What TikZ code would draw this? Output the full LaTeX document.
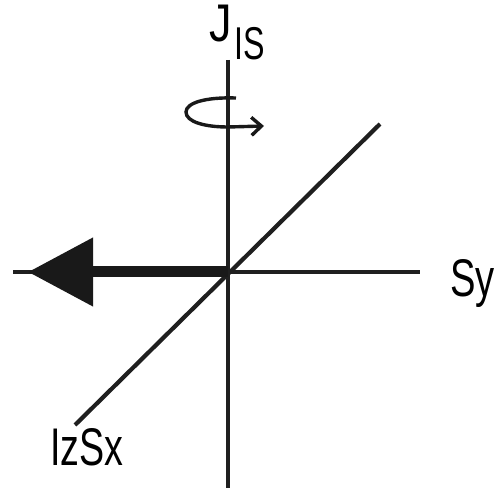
\documentclass[tikz,border=0pt]{standalone}
\usepackage{fontspec}
\setmainfont{Liberation Sans}
\usetikzlibrary{arrows.meta}
\tikzset{
  axis/.style={line width=4.2pt, draw=black!88},
  lbl/.style={inner sep=0pt, anchor=base west, font=\fontsize{53}{53}\selectfont},
  sublbl/.style={inner sep=0pt, anchor=base west, font=\fontsize{46}{46}\selectfont},
  rot/.style={line width=3.4pt, draw=black!90, -{Straight Barb[length=10pt,width=18pt]}},
  bigarrow/.style={line width=11pt, draw=black!90, -{Triangle[length=65pt,width=66pt]}}
}
\begin{document}
\begin{tikzpicture}[x=1pt,y=1pt]
\useasboundingbox (0,0) rectangle (504,488);
% coordinates (pixel x, 488 - pixel y)
\coordinate (O) at (228,216);
\coordinate (vtop) at (228,428);
\coordinate (vbot) at (228,0);
\coordinate (hl) at (13,216);
\coordinate (hr) at (420,216);
\coordinate (dl) at (75,63);
\coordinate (dr) at (380,364);
\coordinate (tip) at (28,216);
% axes
\draw[axis] (vtop) -- (vbot);
\draw[axis] (hl) -- (hr);
\draw[axis] (dl) -- (dr);
% big arrow
\draw[bigarrow] (O) -- (tip);
% rotation arrow
\coordinate (r0) at (236,390);
\coordinate (r1) at (186,376);
\coordinate (r2) at (228,361);
\coordinate (r3) at (264,362);
\draw[rot] (r0) .. controls (205,391) and (186,385) .. (r1)
  .. controls (186,366) and (205,361) .. (r2) -- (r3);
% labels
\node[lbl] (J) at (209,446) {\scalebox{0.85}[1]{J}};
\node[sublbl] (IS) at (234,428) {\scalebox{0.7}[1]{IS}};
\node[lbl] (Sy) at (450,191) {\scalebox{0.72}[1]{Sy}};
\node[lbl] (IzSx) at (50,23) {\scalebox{0.71}[1]{IzSx}};
\end{tikzpicture}
\end{document}
